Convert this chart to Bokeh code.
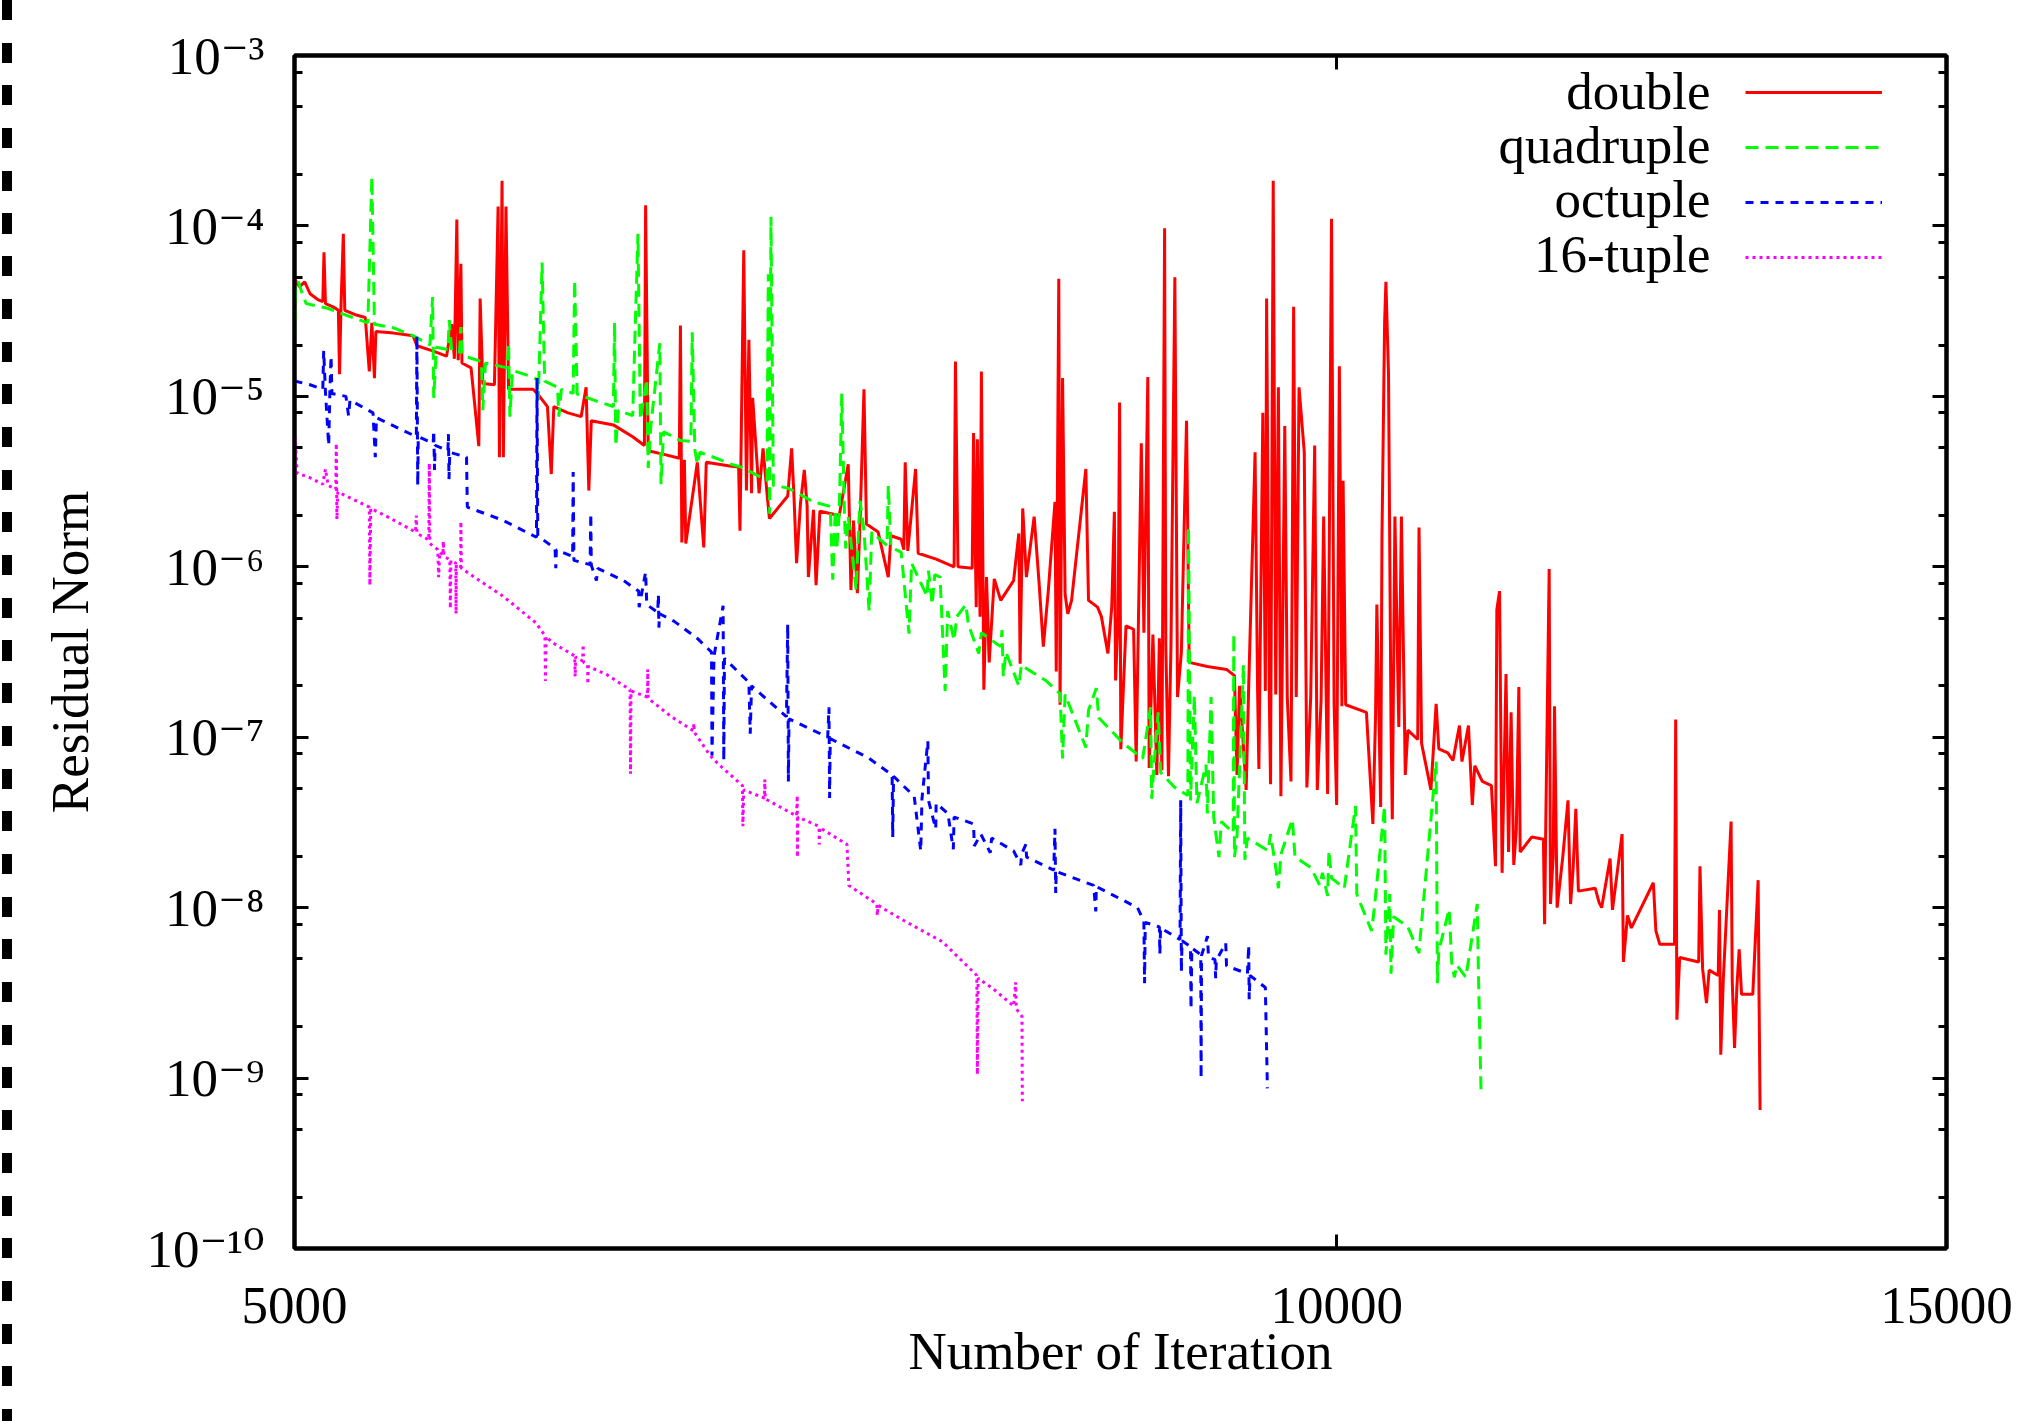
from bokeh.plotting import figure
from bokeh.models import (Range1d, FixedTicker, Label, Legend, LegendItem,
                          LogAxis, CustomJSTickFormatter, Div)
from bokeh.layouts import row
from bokeh.embed import file_html
from bokeh.resources import INLINE

# ---------------- data ----------------
double_iter = [
    5000, 5017, 5034, 5052, 5078, 5095, 5099, 5104, 5130, 5148,
    5152, 5157, 5165, 5170, 5210, 5241, 5255, 5264, 5273, 5278,
    5341, 5410, 5424, 5481, 5532, 5551, 5561, 5570, 5575, 5585,
    5589, 5623, 5652, 5657, 5667, 5711, 5725, 5730, 5740, 5745,
    5755, 5765, 5860, 5885, 5916, 5931, 5941, 5997, 6050, 6070,
    6081, 6091, 6181, 6261, 6310, 6315, 6326, 6397, 6458, 6463,
    6469, 6480, 6486, 6536, 6564, 6575, 6678, 6718, 6724, 6741,
    6753, 6764, 6776, 6781, 6810, 6828, 6846, 6857, 6941, 6959,
    6970, 6982, 7000, 7018, 7031, 7037, 7061, 7073, 7091, 7183,
    7226, 7239, 7251, 7270, 7283, 7302, 7314, 7371, 7421, 7434,
    7485, 7498, 7505, 7518, 7557, 7570, 7661, 7753, 7760, 7773,
    7847, 7854, 7868, 7874, 7888, 7895, 7908, 7922, 7936, 7963,
    7997, 8066, 8094, 8101, 8115, 8135, 8177, 8205, 8227, 8255,
    8291, 8298, 8312, 8319, 8333, 8347, 8362, 8383, 8463, 8478,
    8529, 8551, 8588, 8610, 8625, 8632, 8647, 8655, 8662, 8692,
    8736, 8751, 8781, 8796, 8819, 8827, 8849, 8872, 8887, 8902,
    8918, 8925, 8941, 8956, 8979, 8995, 9018, 9049, 9065, 9175,
    9293, 9342, 9358, 9374, 9415, 9431, 9471, 9487, 9495, 9520,
    9536, 9544, 9561, 9569, 9586, 9602, 9619, 9635, 9660, 9676,
    9700, 9717, 9734, 9752, 9786, 9803, 9828, 9854, 9871, 9896,
    9913, 9939, 9965, 9982, 9999, 10017, 10034, 10042, 10059, 10199,
    10243, 10261, 10270, 10296, 10305, 10323, 10332, 10350, 10367, 10376,
    10394, 10421, 10439, 10466, 10484, 10553, 10562, 10580, 10646, 10665,
    10683, 10702, 10766, 10803, 10850, 10868, 10915, 10943, 10961, 11016,
    11083, 11113, 11123, 11143, 11162, 11191, 11210, 11229, 11249, 11268,
    11287, 11297, 11385, 11473, 11482, 11491, 11517, 11527, 11548, 11558,
    11578, 11622, 11662, 11682, 11702, 11723, 11743, 11875, 11906, 11926,
    11993, 12012, 12089, 12100, 12133, 12164, 12343, 12364, 12396, 12518,
    12528, 12538, 12561, 12721, 12732, 12754, 12787, 12810, 12887, 12898,
    12909, 12931, 12998, 13008, 13028, 13048, 13068, 13089, 13187, 13234,
    13242, 13251,
]
double_res = [
    4.9e-5, 4.4e-5, 4.7e-5, 4.0e-5, 3.7e-5, 3.6e-5, 7.0e-5, 3.5e-5, 3.35e-5, 3.2e-5,
    1.35e-5, 3.35e-5, 9.0e-5, 3.2e-5, 3.0e-5, 2.9e-5, 1.4e-5, 2.7e-5, 1.28e-5, 2.4e-5,
    2.35e-5, 2.27e-5, 1.98e-5, 1.85e-5, 1.72e-5, 2.65e-5, 1.66e-5, 1.09e-4, 1.63e-5, 6.0e-5,
    1.57e-5, 1.47e-5, 5.1e-6, 3.75e-5, 1.19e-5, 1.17e-5, 1.3e-4, 4.4e-6, 1.84e-4, 4.4e-6,
    1.3e-4, 1.1e-5, 1.1e-5, 1.0e-5, 8.7e-6, 3.5e-6, 8.7e-6, 8.0e-6, 7.6e-6, 1.13e-5,
    2.8e-6, 7.2e-6, 6.8e-6, 5.8e-6, 5.15e-6, 1.32e-4, 4.8e-6, 4.55e-6, 4.33e-6, 2.6e-5,
    1.39e-6, 4.25e-6, 1.37e-6, 4.1e-6, 1.3e-6, 4.1e-6, 3.9e-6, 3.85e-6, 1.63e-6, 7.2e-5,
    2.8e-6, 2.15e-5, 2.7e-6, 9.8e-6, 2.7e-6, 4.95e-6, 2.7e-6, 1.92e-6, 2.6e-6, 4.95e-6,
    2.57e-6, 1.05e-6, 2.35e-6, 3.7e-6, 2.28e-6, 8.7e-7, 2.16e-6, 7.8e-7, 2.12e-6, 2.0e-6,
    4.0e-6, 7.3e-7, 1.87e-6, 7.0e-7, 1.84e-6, 1.1e-5, 1.78e-6, 1.6e-6, 8.7e-7, 1.52e-6,
    1.45e-6, 1.26e-6, 4.1e-6, 1.24e-6, 3.75e-6, 1.2e-6, 1.11e-6, 1.0e-6, 1.6e-5, 1.0e-6,
    9.8e-7, 6.1e-6, 5.8e-7, 5.6e-6, 5.1e-7, 1.4e-5, 1.9e-7, 8.7e-7, 2.75e-7, 8.5e-7,
    6.35e-7, 8.3e-7, 1.57e-6, 2.7e-7, 2.2e-6, 8.7e-7, 1.97e-6, 7.7e-7, 3.4e-7, 7.4e-7,
    2.4e-6, 2.43e-7, 4.9e-5, 1.55e-7, 1.28e-5, 6.9e-7, 5.3e-7, 6.35e-7, 3.75e-6, 6.35e-7,
    5.8e-7, 5.1e-7, 3.1e-7, 5.8e-7, 2.1e-6, 2.15e-7, 5.1e-7, 9.2e-6, 8.5e-8, 4.5e-7,
    4.3e-7, 7.2e-8, 5.3e-6, 4.1e-7, 1.3e-5, 6.6e-8, 4.0e-7, 6.0e-8, 3.8e-7, 6.4e-8,
    9.7e-5, 3.45e-7, 5.9e-8, 3.55e-7, 5.0e-5, 1.72e-7, 3.16e-7, 7.2e-6, 2.75e-7, 2.6e-7,
    2.5e-7, 2.3e-7, 6.0e-8, 2.0e-7, 4.9e-8, 2.0e-7, 4.7e-6, 1.87e-7, 6.5e-8, 8.0e-6,
    1.87e-7, 3.75e-5, 1.72e-7, 5.3e-8, 1.84e-4, 1.78e-7, 1.13e-5, 4.5e-8, 6.7e-6, 1.72e-7,
    5.5e-8, 3.35e-5, 1.72e-7, 1.13e-5, 4.7e-6, 5.07e-8, 1.72e-7, 5.15e-6, 4.9e-8, 1.65e-7,
    1.97e-6, 4.65e-8, 1.1e-4, 1.57e-7, 4.0e-8, 1.5e-5, 1.52e-7, 3.2e-6, 1.55e-7, 1.4e-7,
    3.1e-8, 1.32e-7, 6.0e-7, 3.9e-8, 1.5e-6, 2.7e-5, 4.7e-5, 1.35e-5, 1.21e-7, 3.3e-8,
    1.97e-6, 1.15e-7, 1.97e-6, 6.0e-8, 1.1e-7, 9.7e-8, 1.7e-6, 9.2e-8, 4.9e-8, 8.9e-8,
    1.57e-7, 8.55e-8, 8.1e-8, 7.3e-8, 1.17e-7, 7.2e-8, 1.17e-7, 4.0e-8, 6.8e-8, 5.5e-8,
    5.2e-8, 1.75e-8, 5.6e-7, 7.2e-7, 1.6e-8, 2.35e-7, 2.12e-8, 1.4e-7, 1.78e-8, 2.85e-8,
    1.97e-7, 2.12e-8, 2.6e-8, 2.52e-8, 8.0e-9, 3.1e-8, 9.7e-7, 1.05e-8, 2.0e-8, 1.52e-7,
    1.0e-8, 2.0e-8, 4.26e-8, 1.05e-8, 1.7e-8, 3.8e-8, 1.25e-8, 1.3e-8, 1.07e-8, 1.0e-8,
    1.94e-8, 9.7e-9, 2.7e-8, 4.8e-9, 9.0e-9, 7.6e-9, 1.4e-8, 7.3e-9, 6.1e-9, 6.1e-9,
    1.27e-7, 2.2e-9, 5.1e-9, 4.8e-9, 1.75e-8, 4.4e-9, 2.75e-9, 4.3e-9, 4.0e-9, 9.7e-9,
    1.37e-9, 3.8e-9, 3.2e-8, 3.7e-9, 1.5e-9, 3.4e-9, 5.7e-9, 3.1e-9, 3.1e-9, 1.45e-8,
    3.0e-9, 6.5e-10,
]

quad_iter = [
    5000, 5004, 5013, 5026, 5039, 5073, 5108, 5174, 5250, 5264,
    5273, 5341, 5410, 5471, 5481, 5485, 5495, 5537, 5542, 5551,
    5580, 5585, 5589, 5609, 5662, 5667, 5677, 5760, 5765, 5770,
    5780, 5845, 5875, 5880, 5895, 5905, 5956, 5961, 5971, 6018,
    6024, 6034, 6101, 6181, 6186, 6191, 6202, 6261, 6283, 6293,
    6320, 6326, 6337, 6375, 6380, 6391, 6463, 6508, 6514, 6525,
    6536, 6547, 6620, 6683, 6729, 6822, 6846, 6852, 6858, 6864,
    6875, 6941, 6988, 7061, 7140, 7152, 7164, 7171, 7183, 7195,
    7208, 7214, 7226, 7264, 7277, 7283, 7302, 7327, 7340, 7415,
    7421, 7434, 7485, 7524, 7537, 7615, 7622, 7641, 7654, 7681,
    7707, 7720, 7753, 7767, 7814, 7827, 7881, 7895, 7997, 8004,
    8011, 8025, 8094, 8108, 8142, 8241, 8319, 8333, 8347, 8463,
    8478, 8522, 8536, 8677, 8789, 8835, 8842, 8857, 8880, 8895,
    8979, 9057, 9061, 9073, 9096, 9112, 9167, 9175, 9198, 9214,
    9246, 9261, 9334, 9338, 9342, 9358, 9398, 9407, 9423, 9553,
    9569, 9602, 9619, 9635, 9709, 9726, 9828, 9888, 9905, 9939,
    9948, 9965, 10050, 10125, 10134, 10160, 10234, 10252, 10323, 10332,
    10350, 10358, 10367, 10385, 10484, 10562, 10570, 10683, 10692, 10702,
    10776, 10794, 10813, 10831, 10896, 10979, 10988, 11007,
]
quad_res = [
    2.08e-5, 4.4e-5, 4.7e-5, 4.0e-5, 3.5e-5, 3.4e-5, 3.3e-5, 3.0e-5, 2.7e-5, 1.94e-4,
    2.65e-5, 2.52e-5, 2.27e-5, 2.0e-5, 3.83e-5, 9.8e-6, 1.94e-5, 1.88e-5, 2.8e-5, 1.85e-5,
    1.82e-5, 2.55e-5, 1.79e-5, 1.7e-5, 1.6e-5, 8.3e-6, 1.57e-5, 1.47e-5, 2.05e-5, 7.6e-6,
    1.42e-5, 1.32e-5, 1.26e-5, 9.5e-6, 6.1e-5, 1.23e-5, 1.13e-5, 7.6e-6, 1.1e-5, 1.04e-5,
    4.8e-5, 1.03e-5, 9.5e-6, 8.7e-6, 2.7e-5, 5.1e-6, 8.3e-6, 7.7e-6, 9.0e-5, 7.3e-6,
    1.26e-5, 3.8e-6, 6.7e-6, 2.05e-5, 3.05e-6, 6.2e-6, 5.5e-6, 5.45e-6, 2.38e-5, 4.9e-6,
    4.0e-6, 4.7e-6, 4.33e-6, 4.0e-6, 3.85e-6, 3.33e-6, 3.2e-6, 5.2e-5, 2.05e-6, 1.13e-4,
    3.0e-6, 2.9e-6, 2.7e-6, 2.4e-6, 2.26e-6, 8.4e-7, 2.16e-6, 1.26e-6, 2.08e-6, 1.04e-5,
    2.0e-6, 1.28e-6, 1.97e-6, 7.3e-7, 1.8e-6, 2.44e-6, 1.63e-6, 5.5e-7, 1.6e-6, 1.33e-6,
    3.0e-6, 1.3e-6, 1.22e-6, 4.05e-7, 1.05e-6, 6.7e-7, 9.5e-7, 6.0e-7, 9.0e-7, 8.7e-7,
    1.87e-7, 5.5e-7, 3.7e-7, 5.1e-7, 6.0e-7, 4.6e-7, 3.1e-7, 4.1e-7, 3.4e-7, 4.25e-7,
    2.27e-7, 3.16e-7, 2.0e-7, 2.66e-7, 2.5e-7, 2.15e-7, 1.8e-7, 7.5e-8, 1.78e-7, 8.7e-8,
    1.44e-7, 1.94e-7, 1.3e-7, 9.2e-8, 7.5e-8, 1.5e-7, 4.35e-8, 7.2e-8, 1.4e-7, 6.2e-8,
    5.07e-8, 4.55e-8, 1.72e-6, 4.26e-8, 1.75e-7, 4.1e-8, 6.9e-8, 3.57e-8, 1.72e-7, 3.4e-8,
    1.98e-8, 3.2e-8, 2.75e-8, 4.05e-7, 1.98e-8, 2.65e-8, 2.66e-7, 1.91e-8, 2.56e-8, 2.16e-8,
    2.7e-8, 1.72e-8, 1.3e-8, 2.05e-8, 3.3e-8, 1.98e-8, 1.72e-8, 1.35e-8, 1.6e-8, 1.17e-8,
    2.16e-8, 1.49e-8, 1.3e-8, 3.95e-8, 1.2e-8, 1.05e-8, 7.3e-9, 9.8e-9, 3.95e-8, 5.3e-9,
    9.1e-9, 1.2e-8, 4.1e-9, 8.85e-9, 7.7e-9, 5.4e-9, 6.6e-9, 7.2e-8, 3.6e-9, 5.6e-9,
    9.8e-9, 4.8e-9, 3.9e-9, 4.6e-9, 3.9e-9, 1.05e-8, 4.0e-9, 8.2e-10,
]

oct_iter = [
    5000, 5052, 5095, 5098, 5104, 5115, 5119, 5123, 5126, 5174,
    5183, 5188, 5268, 5276, 5280, 5376, 5422, 5424, 5427, 5429,
    5483, 5485, 5488, 5490, 5537, 5539, 5541, 5544, 5606, 5609,
    5745, 5873, 5875, 5878, 5946, 5949, 5951, 6016, 6018, 6021,
    6086, 6089, 6091, 6112, 6117, 6223, 6286, 6288, 6315, 6320,
    6366, 6369, 6371, 6374, 6435, 6536, 6598, 6600, 6609, 6649,
    6652, 6655, 6764, 6770, 6776, 6935, 6941, 6944, 6947, 7128,
    7134, 7137, 7140, 7321, 7440, 7443, 7447, 7550, 7583, 7589,
    7619, 7622, 7659, 7661, 7721, 7749, 7753, 7854, 7858, 7892,
    7942, 7949, 8066, 8105, 8108, 8132, 8136, 8284, 8291, 8295,
    8298, 8507, 8519, 8522, 8759, 8796, 8800, 8804, 8887, 8890,
    8894, 9010, 9014, 9018, 9022, 9073, 9076, 9081, 9135, 9137,
    9140, 9176, 9182, 9222, 9226, 9230, 9288, 9293, 9423, 9431,
    9434, 9439, 9536, 9549,
]
oct_res = [
    1.23e-5, 1.17e-5, 1.1e-5, 1.85e-5, 1.06e-5, 5.15e-6, 1.06e-5, 1.72e-5, 1.04e-5, 1.0e-5,
    7.7e-6, 9.5e-6, 8.0e-6, 4.4e-6, 7.5e-6, 6.3e-6, 5.8e-6, 2.27e-5, 3.0e-6, 5.8e-6,
    5.3e-6, 6.3e-6, 3.7e-6, 5.15e-6, 4.8e-6, 6.0e-6, 3.27e-6, 4.7e-6, 4.4e-6, 2.24e-6,
    1.87e-6, 1.49e-6, 1.28e-5, 1.52e-6, 1.28e-6, 9.8e-7, 1.26e-6, 1.15e-6, 3.6e-6, 1.09e-6,
    1.03e-6, 2.05e-6, 1.02e-6, 8.3e-7, 9.8e-7, 8.3e-7, 7.2e-7, 5.8e-7, 9.3e-7, 6.0e-7,
    5.4e-7, 6.9e-7, 4.4e-7, 5.3e-7, 4.8e-7, 3.8e-7, 3.16e-7, 7.8e-8, 3.0e-7, 5.9e-7,
    7.3e-8, 2.9e-7, 2.1e-7, 1.05e-7, 2.0e-7, 1.32e-7, 4.6e-7, 5.5e-8, 1.28e-7, 1.0e-7,
    1.5e-7, 4.4e-8, 9.8e-8, 7.6e-8, 6.0e-8, 2.6e-8, 5.9e-8, 4.5e-8, 2.15e-8, 4.35e-8,
    9.5e-8, 4.26e-8, 2.9e-8, 4.1e-8, 3.57e-8, 2.2e-8, 3.4e-8, 3.1e-8, 2.3e-8, 2.7e-8,
    2.1e-8, 2.56e-8, 2.15e-8, 1.78e-8, 2.05e-8, 2.35e-8, 1.98e-8, 1.66e-8, 2.9e-8, 1.22e-8,
    1.63e-8, 1.35e-8, 9.5e-9, 1.33e-8, 1.0e-8, 8.3e-9, 3.6e-9, 8.2e-9, 7.7e-9, 5.35e-9,
    7.6e-9, 6.5e-9, 4.26e-8, 4.2e-9, 6.4e-9, 5.9e-9, 2.55e-9, 5.8e-9, 5.3e-9, 1.0e-9,
    5.25e-9, 6.8e-9, 5.15e-9, 4.95e-9, 3.85e-9, 4.9e-9, 6.2e-9, 4.55e-9, 4.1e-9, 6.0e-9,
    2.9e-9, 4.0e-9, 3.4e-9, 8.7e-10,
]

t16_iter = [
    5000, 5002, 5009, 5052, 5095, 5104, 5113, 5139, 5141, 5143,
    5146, 5255, 5257, 5260, 5318, 5419, 5422, 5424, 5467, 5469,
    5471, 5500, 5503, 5507, 5519, 5520, 5523, 5544, 5546, 5548,
    5566, 5567, 5568, 5584, 5585, 5587, 5599, 5745, 5870, 5906,
    5908, 5911, 5934, 6024, 6026, 6028, 6056, 6058, 6060, 6076,
    6077, 6079, 6154, 6250, 6252, 6254, 6323, 6324, 6326, 6424,
    6519, 6521, 6523, 6592, 6626, 6735, 6737, 6741, 6834, 6836,
    6838, 6982, 6985, 6986, 6988, 7087, 7088, 7090, 7220, 7229,
    7365, 7367, 7371, 7498, 7694, 7871, 7874, 7878, 7963, 8066,
    8077, 8080, 8111, 8113,
]
t16_res = [
    3.6e-6, 5.8e-6, 3.55e-6, 3.33e-6, 3.05e-6, 3.75e-6, 3.0e-6, 2.85e-6, 5.3e-6, 1.9e-6,
    2.75e-6, 2.24e-6, 7.8e-7, 2.2e-6, 1.97e-6, 1.6e-6, 2.0e-6, 1.57e-6, 1.44e-6, 4.05e-6,
    1.37e-6, 1.26e-6, 8.7e-7, 1.22e-6, 1.17e-6, 1.41e-6, 1.15e-6, 1.1e-6, 5.7e-7, 1.09e-6,
    1.05e-6, 5.3e-7, 1.03e-6, 1.0e-6, 1.84e-6, 9.8e-7, 9.5e-7, 6.7e-7, 4.7e-7, 3.95e-7,
    2.14e-7, 3.9e-7, 3.6e-7, 3.0e-7, 2.27e-7, 2.95e-7, 2.8e-7, 3.5e-7, 2.75e-7, 2.66e-7,
    2.05e-7, 2.6e-7, 2.33e-7, 1.9e-7, 6.1e-8, 1.87e-7, 1.72e-7, 2.5e-7, 1.69e-7, 1.32e-7,
    1.09e-7, 1.21e-7, 1.07e-7, 7.8e-8, 7.0e-8, 5.2e-8, 3.0e-8, 4.9e-8, 4.4e-8, 5.65e-8,
    4.35e-8, 3.45e-8, 4.55e-8, 1.98e-8, 3.4e-8, 3.0e-8, 2.35e-8, 2.95e-8, 2.35e-8, 1.35e-8,
    1.05e-8, 9.0e-9, 1.03e-8, 8.4e-9, 6.3e-9, 4.0e-9, 1.05e-9, 3.85e-9, 3.3e-9, 2.65e-9,
    3.65e-9, 2.55e-9, 2.3e-9, 7.3e-10,
]

series_names = ["double", "quadruple", "octuple", "16-tuple"]
series_colors = ["#ff0000", "#00ff00", "#0000ff", "#ff00ff"]
series_dashes = ["solid", "13 7", "8 7", "3 4"]

x_ticks = [5000, 10000, 15000]
x_tick_labels = ["5000", "10000", "15000"]
y_tick_exponents = [-10, -9, -8, -7, -6, -5, -4, -3]
y_tick_labels = ["10⁻¹⁰", "10⁻⁹", "10⁻⁸", "10⁻⁷", "10⁻⁶", "10⁻⁵", "10⁻⁴", "10⁻³"]
y_minor_mantissas = [2, 5, 8]

# ---------------- styling ----------------
FONT = "Liberation Serif"
TICKFONT = "Liberation Serif, DejaVu Serif"
FS = "53px"

y_ticks = [10.0 ** e for e in y_tick_exponents]
y_minor = [m * 10.0 ** e for e in y_tick_exponents[:-1] for m in y_minor_mantissas]

p = figure(width=2009, height=1421, x_axis_type="log", y_axis_type="log",
           x_range=Range1d(5000, 15000), y_range=Range1d(1e-10, 1e-3),
           toolbar_location=None, output_backend="svg",
           min_border_left=280, min_border_right=77,
           min_border_top=55, min_border_bottom=173, margin=0)
p.grid.visible = False
p.outline_line_color = "black"
p.outline_line_width = 4
p.background_fill_color = "white"
p.border_fill_color = "white"

xt = FixedTicker(ticks=x_ticks, minor_ticks=[])
yt = FixedTicker(ticks=y_ticks, minor_ticks=y_minor)

xa = p.xaxis[0]
ya = p.yaxis[0]
xa.ticker = xt
ya.ticker = yt
xa.major_label_overrides = {v: s for v, s in zip(x_ticks, x_tick_labels)}
ya.major_label_overrides = {v: s for v, s in zip(y_ticks, y_tick_labels)}
xa.axis_label = "Number of Iteration"
ya.axis_label = "Residual Norm"
for ax in (xa, ya):
    ax.axis_line_width = 4
    ax.major_tick_in = 14
    ax.major_tick_out = 0
    ax.minor_tick_in = 8
    ax.minor_tick_out = 0
    ax.major_tick_line_width = 3
    ax.minor_tick_line_width = 3
    ax.major_label_text_font = TICKFONT
    ax.major_label_text_font_size = FS
    ax.major_label_text_color = "black"
    ax.axis_label_text_font = FONT
    ax.axis_label_text_font_size = FS
    ax.axis_label_text_font_style = "normal"
    ax.axis_label_text_color = "black"
xa.major_label_standoff = 39
xa.axis_label_standoff = -4
ya.major_label_standoff = 30
ya.axis_label_standoff = 44

blank = CustomJSTickFormatter(code="return ''")
top = LogAxis(ticker=xt, formatter=blank, axis_line_width=4, major_tick_in=14,
              major_tick_out=0, minor_tick_in=8, minor_tick_out=0,
              major_tick_line_width=3, minor_tick_line_width=3,
              major_label_text_font_size="1px", major_label_standoff=0)
right = LogAxis(ticker=yt, formatter=blank, axis_line_width=4, major_tick_in=14,
                major_tick_out=0, minor_tick_in=8, minor_tick_out=0,
                major_tick_line_width=3, minor_tick_line_width=3,
                major_label_text_font_size="1px", major_label_standoff=0)
p.add_layout(top, "above")
p.add_layout(right, "right")

series = [(double_iter, double_res), (quad_iter, quad_res),
          (oct_iter, oct_res), (t16_iter, t16_res)]
renderers = []
for (xs, ys), col, dash in zip(series, series_colors, series_dashes):
    r = p.line(xs, ys, line_color=col, line_width=3, line_dash=dash)
    renderers.append(r)

legend = Legend(items=[LegendItem(label=" ", renderers=[r]) for r in renderers],
                location=(1451, 981), glyph_width=137, glyph_height=20,
                label_height=20, label_width=1, label_standoff=0, spacing=35,
                padding=0, margin=0, border_line_color=None,
                background_fill_alpha=0, label_text_font_size="1px")
p.add_layout(legend)

for name, yb in zip(series_names, [1158, 1104, 1050, 995]):
    p.add_layout(Label(x=1416, y=yb, x_units="screen", y_units="screen", text=name,
                       text_align="right", text_baseline="alphabetic",
                       text_font=FONT, text_font_size=FS, text_color="black"))

strip = Div(text="", width=14, height=1421, margin=0, styles={
    "background-image": "repeating-linear-gradient(to bottom, #000 0px, #000 20px, "
                        "transparent 20px, transparent 42.7px)",
    "background-size": "10px 100%",
    "background-repeat": "no-repeat",
    "background-position": "2px 0px",
})

layout = row(strip, p, spacing=0, margin=0)
open("out.html", "w").write(file_html(layout, INLINE))
